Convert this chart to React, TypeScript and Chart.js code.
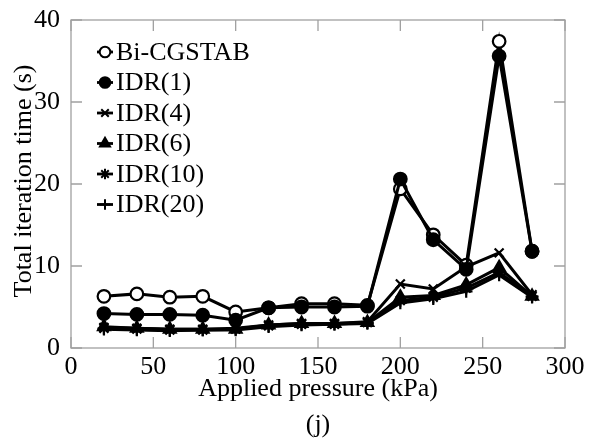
import React, { useEffect, useRef } from "react";
import { Chart, registerables } from "chart.js";
import { drawPoint } from "chart.js/helpers";

Chart.register(...registerables);

// Applied pressure (kPa)
const pressure = [20, 40, 60, 80, 100, 120, 140, 160, 180, 200, 220, 240, 260, 280];

// Total iteration time (s) per solver
const biCgstab = [6.3, 6.6, 6.2, 6.3, 4.4, 4.9, 5.4, 5.4, 5.2, 19.4, 13.8, 10.1, 37.4, 11.8];
const idr1 = [4.2, 4.1, 4.1, 4.0, 3.4, 4.9, 5.0, 5.0, 5.1, 20.6, 13.2, 9.6, 35.6, 11.8];
const idr4 = [2.5, 2.4, 2.3, 2.3, 2.4, 2.8, 3.0, 3.0, 3.2, 7.8, 7.2, 9.9, 11.6, 6.5];
const idr6 = [2.6, 2.4, 2.3, 2.3, 2.3, 2.8, 3.0, 3.0, 3.1, 6.2, 6.4, 7.7, 9.8, 6.3];
const idr10 = [2.4, 2.3, 2.2, 2.2, 2.3, 2.7, 2.9, 2.9, 3.1, 5.8, 6.2, 7.3, 9.2, 6.3];
const idr20 = [2.3, 2.2, 2.1, 2.2, 2.2, 2.6, 2.8, 2.9, 3.0, 5.5, 6.0, 6.9, 8.9, 6.2];

const seriesNames = ["Bi-CGSTAB", "IDR(1)", "IDR(4)", "IDR(6)", "IDR(10)", "IDR(20)"];
const seriesValues = [biCgstab, idr1, idr4, idr6, idr10, idr20];
const seriesMarkers = ["circle", "circle", "crossRot", "triangle", "star", "cross"];
const seriesFill = ["#ffffff", "#000000", "#000000", "#000000", "#000000", "#000000"];

const xTicks = [0, 50, 100, 150, 200, 250, 300];
const yTicks = [0, 10, 20, 30, 40];

const xTitle = "Applied pressure (kPa)";
const yTitle = "Total iteration time (s)";
const caption = "(j)";

const FONT = "'Liberation Serif', 'Times New Roman', serif";
const AXIS_GRAY = "#a0a0a0";

const markerRadius = (style: string) =>
  style === "circle" ? 6.3 : style === "triangle" ? 6.8 : 6.3;

// Box, inward ticks, axis titles, caption and in-plot legend
const decorPlugin = {
  id: "decor",
  afterDraw(chart: any) {
    const { ctx, chartArea } = chart;
    const xs = chart.scales.x;
    const ys = chart.scales.y;
    const { left, right, top, bottom } = chartArea;
    const tick = 11;

    ctx.save();
    ctx.strokeStyle = AXIS_GRAY;
    ctx.lineWidth = 1.3;
    ctx.strokeRect(left, top, right - left, bottom - top);
    ctx.beginPath();
    xTicks.forEach((v) => {
      const px = xs.getPixelForValue(v);
      ctx.moveTo(px, bottom);
      ctx.lineTo(px, bottom - tick);
      ctx.moveTo(px, top);
      ctx.lineTo(px, top + tick);
    });
    yTicks.forEach((v) => {
      const py = ys.getPixelForValue(v);
      ctx.moveTo(left, py);
      ctx.lineTo(left + tick, py);
      ctx.moveTo(right, py);
      ctx.lineTo(right - tick, py);
    });
    ctx.stroke();

    // titles
    ctx.fillStyle = "#000";
    ctx.font = `26px ${FONT}`;
    ctx.textAlign = "center";
    ctx.textBaseline = "middle";
    ctx.fillText(xTitle, (left + right) / 2, 389);
    ctx.fillText(caption, (left + right) / 2, 425);
    ctx.save();
    ctx.translate(24, (top + bottom) / 2 - 3);
    ctx.rotate(-Math.PI / 2);
    ctx.fillText(yTitle, 0, 0);
    ctx.restore();

    // legend
    const lx = 105;
    const ly0 = 52;
    const dy = 30.5;
    ctx.textAlign = "left";
    ctx.font = `26px ${FONT}`;
    seriesNames.forEach((name, i) => {
      const y = ly0 + i * dy;
      ctx.strokeStyle = "#000";
      ctx.lineWidth = 2.8;
      ctx.beginPath();
      ctx.moveTo(lx - 8, y);
      ctx.lineTo(lx + 8, y);
      ctx.stroke();
      ctx.fillStyle = seriesFill[i];
      ctx.strokeStyle = "#000";
      ctx.lineWidth = 2;
      drawPoint(
        ctx,
        { pointStyle: seriesMarkers[i], rotation: 0, radius: markerRadius(seriesMarkers[i]) - 1, borderWidth: 2 } as any,
        lx,
        y
      );
      ctx.fillStyle = "#000";
      ctx.fillText(name, lx + 11, y + 1);
    });
    ctx.restore();
  },
};

export default function App() {
  const canvasRef = useRef<HTMLCanvasElement | null>(null);

  useEffect(() => {
    const canvas = canvasRef.current;
    if (!canvas) return;
    const n = seriesNames.length;
    const chart = new Chart(canvas, {
      type: "line",
      data: {
        datasets: seriesNames.map((name, i) => ({
          label: name,
          data: pressure.map((p, j) => ({ x: p, y: seriesValues[i][j] })),
          borderColor: "#000",
          borderWidth: 3,
          backgroundColor: seriesFill[i],
          pointStyle: seriesMarkers[i] as any,
          pointRadius: markerRadius(seriesMarkers[i]),
          pointBorderWidth: 2.2,
          pointBorderColor: "#000",
          pointBackgroundColor: seriesFill[i],
          tension: 0,
          fill: false,
          order: n - 1 - i,
        })),
      },
      options: {
        responsive: false,
        animation: false,
        events: [],
        layout: { padding: { top: 20, right: 29, left: 0, bottom: 0 } },
        plugins: {
          legend: { display: false },
          tooltip: { enabled: false },
          title: { display: false },
        },
        scales: {
          x: {
            type: "linear",
            min: 0,
            max: 300,
            grid: { display: false },
            border: { display: false },
            afterFit: (s: any) => {
              s.height = 99;
            },
            afterBuildTicks: (s: any) => {
              s.ticks = xTicks.map((v) => ({ value: v }));
            },
            ticks: {
              color: "#000",
              font: { family: FONT, size: 26 },
              padding: -4,
              maxRotation: 0,
              autoSkip: false,
            },
          },
          y: {
            type: "linear",
            min: 0,
            max: 40,
            grid: { display: false },
            border: { display: false },
            afterFit: (s: any) => {
              s.width = 71;
            },
            afterBuildTicks: (s: any) => {
              s.ticks = yTicks.map((v) => ({ value: v }));
            },
            ticks: {
              color: "#000",
              font: { family: FONT, size: 26 },
              padding: 3,
              autoSkip: false,
            },
          },
        },
      },
      plugins: [decorPlugin],
    });
    return () => chart.destroy();
  }, []);

  return (
    <div style={{ position: "fixed", left: 0, top: 0, width: 594, height: 447, background: "#fff" }}>
      <canvas ref={canvasRef} width={594} height={447} style={{ display: "block" }} />
    </div>
  );
}
